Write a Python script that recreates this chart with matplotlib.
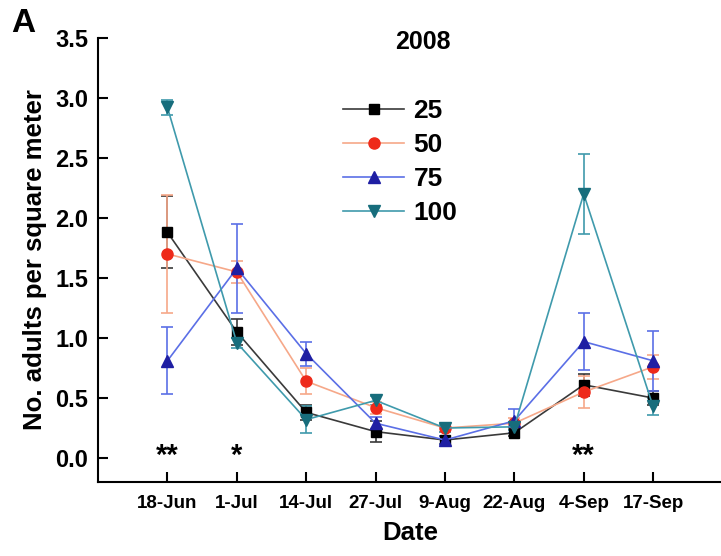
import numpy as np
import matplotlib
matplotlib.use('Agg')
from matplotlib import pyplot as plt

plt.rcParams['font.family'] = ['Liberation Sans', 'DejaVu Sans']
plt.rcParams['font.weight'] = 'bold'
plt.rcParams['axes.labelweight'] = 'bold'

dates = ['18-Jun', '1-Jul', '14-Jul', '27-Jul', '9-Aug', '22-Aug', '4-Sep', '17-Sep']

# mean density per plant density treatment, with SE
d25 = [1.88, 1.05, 0.38, 0.22, 0.15, 0.21, 0.61, 0.50]
e25 = [0.30, 0.11, 0.06, 0.09, 0.03, 0.03, 0.09, 0.06]
d50 = [1.70, 1.55, 0.64, 0.42, 0.25, 0.29, 0.55, 0.76]
e50 = [0.49, 0.09, 0.11, 0.05, 0.03, 0.04, 0.13, 0.10]
d75 = [0.81, 1.58, 0.87, 0.29, 0.15, 0.31, 0.97, 0.81]
e75 = [0.28, 0.37, 0.10, 0.05, 0.03, 0.10, 0.24, 0.25]
d100 = [2.92, 0.96, 0.32, 0.48, 0.25, 0.26, 2.20, 0.43]
e100 = [0.06, 0.04, 0.11, 0.04, 0.03, 0.03, 0.33, 0.07]

labels = ['25', '50', '75', '100']
stars = ['**', '*', '', '', '', '', '**', '']

x = np.arange(len(dates))

fig = plt.figure(figsize=(7.21, 5.56), dpi=100)
ax = fig.add_axes([0.136, 0.133, 0.866, 0.799])

# (series, err, line colour, marker colour, marker, size)
styles = [
    (d25, e25, '#3a3a3a', '#000000', 's', 6.5),
    (d50, e50, '#f6a889', '#ee2a1a', 'o', 8),
    (d75, e75, '#5b6fe6', '#1f1fa3', '^', 9),
    (d100, e100, '#3f9aac', '#176d7c', 'v', 9),
]
handles = []
for (y, e, lc, mc, mk, ms), lab in zip(styles, labels):
    cont = ax.errorbar(x, y, yerr=e, color=lc, lw=1.2, marker=mk, ms=ms,
                       mfc=mc, mec=mc, capsize=4, elinewidth=1.2, capthick=1.2,
                       label=lab)
    handles.append(cont[0])

for xi, s in zip(x, stars):
    if s:
        ax.text(xi, 0.02, s, ha='center', va='center', fontsize=21)

ax.set_xlim(-1, 8.0)
ax.set_ylim(-0.2, 3.5)
ax.set_xticks(x)
ax.set_xticklabels(dates, fontsize=13.5)
ax.set_yticks(np.arange(0, 3.51, 0.5))
ax.set_yticklabels(['%.1f' % v for v in np.arange(0, 3.51, 0.5)], fontsize=17)
ax.tick_params(direction='in', length=7, width=1.5)
ax.tick_params(axis='x', pad=9)
ax.tick_params(axis='y', pad=7)
for s in ['top', 'right']:
    ax.spines[s].set_visible(False)
for s in ['left', 'bottom']:
    ax.spines[s].set_linewidth(1.5)

ax.set_xlabel('Date', fontsize=18.5, labelpad=7)
ax.set_ylabel('No. adults per square meter', fontsize=18.5, labelpad=6)

ax.text(0.52, 0.99, '2008', transform=ax.transAxes, fontsize=18,
        ha='center', va='center')
fig.text(0.015, 0.958, 'A', fontsize=24, ha='left', va='center')

ax.legend(handles, labels, loc='upper left', bbox_to_anchor=(0.355, 0.915),
          frameon=False, fontsize=19, handlelength=2.3, labelspacing=0.38,
          handletextpad=0.35)

fig.savefig('out.png', dpi=100)
